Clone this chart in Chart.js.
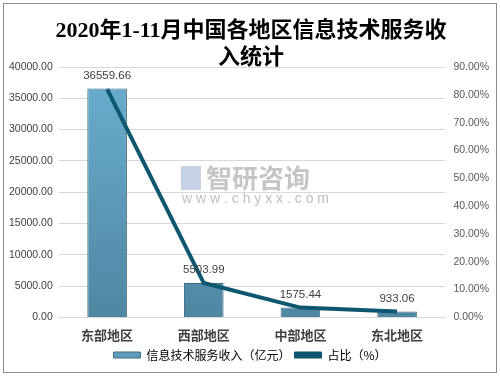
<!DOCTYPE html>
<html>
<head>
<meta charset="utf-8">
<script src="https://cdn.jsdelivr.net/npm/chart.js@4/dist/chart.umd.min.js"></script>
<style>
    html, body { margin: 0; padding: 0; background: #fff; }
    #wrap { width: 500px; height: 377px; }
</style>
</head>
<body>
<div id="wrap"><canvas id="chart" width="500" height="377"></canvas></div>
<script>
const regions = ["东部地区", "西部地区", "中部地区", "东北地区"];
const revenue = [36559.66, 5503.99, 1575.44, 933.06];
const share = [82.02, 12.35, 3.53, 2.09];
const titleLines = ["2020年1-11月中国各地区信息技术服务收", "入统计"];

const cjk = "'Noto Sans CJK SC', 'Noto Sans', sans-serif";
const tickFont = "'Liberation Sans', 'Noto Sans CJK SC', sans-serif";

const framePlugin = {
    id: "frame",
    beforeDraw(chart) {
        const c = chart.ctx;
        c.save();
        c.fillStyle = "#fff";
        c.fillRect(0, 0, chart.width, chart.height);
        c.strokeStyle = "#8c8c8c";
        c.lineWidth = 1;
        c.strokeRect(3.5, 3.5, 493, 369);
        // watermark
        c.fillStyle = "rgba(110, 110, 110, 0.4)";
        c.font = "bold 26px " + cjk;
        c.textAlign = "left";
        c.textBaseline = "middle";
        c.fillText("智研咨询", 206, 178);
        c.fillStyle = "rgba(140, 165, 205, 0.5)";
        c.fillRect(181, 166, 20, 24);
        c.fillStyle = "rgba(110, 110, 110, 0.45)";
        c.font = "14px " + tickFont;
        c.fillText("w w w . c h y x x . c o m", 182, 199);
        // title
        c.fillStyle = "#000";
        c.font = "bold 22px 'Liberation Serif', 'Noto Sans CJK SC', serif";
        c.textAlign = "center";
        c.fillText(titleLines[0], 251, 31);
        c.fillText(titleLines[1], 251, 58);
        c.restore();
    },
};

const labelPlugin = {
    id: "barLabels",
    afterDatasetsDraw(chart) {
        const c = chart.ctx;
        const meta = chart.getDatasetMeta(1);
        c.save();
        c.fillStyle = "#404040";
        c.font = "11.5px " + tickFont;
        c.textAlign = "center";
        c.textBaseline = "bottom";
        meta.data.forEach((bar, i) => {
            c.fillText(revenue[i].toFixed(2), bar.x, bar.y - 7);
        });
        c.restore();
    },
};

const ctx = document.getElementById("chart").getContext("2d");

new Chart(ctx, {
    data: {
        labels: regions,
        datasets: [
            {
                type: "line",
                label: "占比（%）",
                data: share,
                yAxisID: "y1",
                borderColor: "#0d5770",
                backgroundColor: "#0d5770",
                borderWidth: 4,
                pointRadius: 0,
                tension: 0,
                order: 0,
            },
            {
                type: "bar",
                label: "信息技术服务收入（亿元）",
                data: revenue,
                yAxisID: "y",
                backgroundColor: function (context) {
                    const area = context.chart.chartArea;
                    if (!area) return "#5f9fbf";
                    const g = context.chart.ctx.createLinearGradient(0, area.top, 0, area.bottom);
                    g.addColorStop(0, "#6aaed0");
                    g.addColorStop(1, "#4f87a3");
                    return g;
                },
                borderColor: "#3f6c82",
                borderWidth: 1,
                barPercentage: 0.41,
                categoryPercentage: 1,
                order: 1,
            },
        ],
    },
    options: {
        responsive: false,
        animation: false,
        layout: {
            padding: { left: 3, right: 3, top: 67, bottom: 6 },
        },
        plugins: {
            title: { display: false },
            legend: {
                display: true,
                position: "bottom",
                reverse: true,
                labels: {
                    boxWidth: 27,
                    boxHeight: 6,
                    color: "#404040",
                    font: { family: cjk, size: 12 },
                    padding: 4,
                    generateLabels: function (chart) {
                        return chart.data.datasets.map((ds, i) => ({
                            text: ds.label,
                            fillStyle: ds.type === "bar" ? "#5e9cbb" : "#0d5770",
                            strokeStyle: ds.type === "bar" ? "#3f6c82" : "#0d5770",
                            lineWidth: 1,
                            datasetIndex: i,
                            hidden: false,
                        }));
                    },
                },
            },
            tooltip: { enabled: false },
        },
        scales: {
            x: {
                grid: { display: false },
                border: { display: true, color: "#d9d9d9" },
                ticks: {
                    color: "#404040",
                    font: { family: cjk, size: 13, weight: "bold" },
                    padding: 2,
                },
            },
            y: {
                type: "linear",
                position: "left",
                min: 0,
                max: 40000,
                grid: { color: "#d9d9d9", drawTicks: false },
                border: { display: false },
                ticks: {
                    stepSize: 5000,
                    color: "#404040",
                    font: { family: tickFont, size: 10.5 },
                    padding: 6,
                    callback: (v) => Number(v).toFixed(2),
                },
            },
            y1: {
                type: "linear",
                position: "right",
                min: 0,
                max: 90,
                grid: { drawOnChartArea: false, drawTicks: false },
                border: { display: false },
                ticks: {
                    stepSize: 10,
                    color: "#595959",
                    font: { family: tickFont, size: 10.5 },
                    padding: 8,
                    callback: (v) => Number(v).toFixed(2) + "%",
                },
            },
        },
    },
    plugins: [framePlugin, labelPlugin],
});
</script>
</body>
</html>
